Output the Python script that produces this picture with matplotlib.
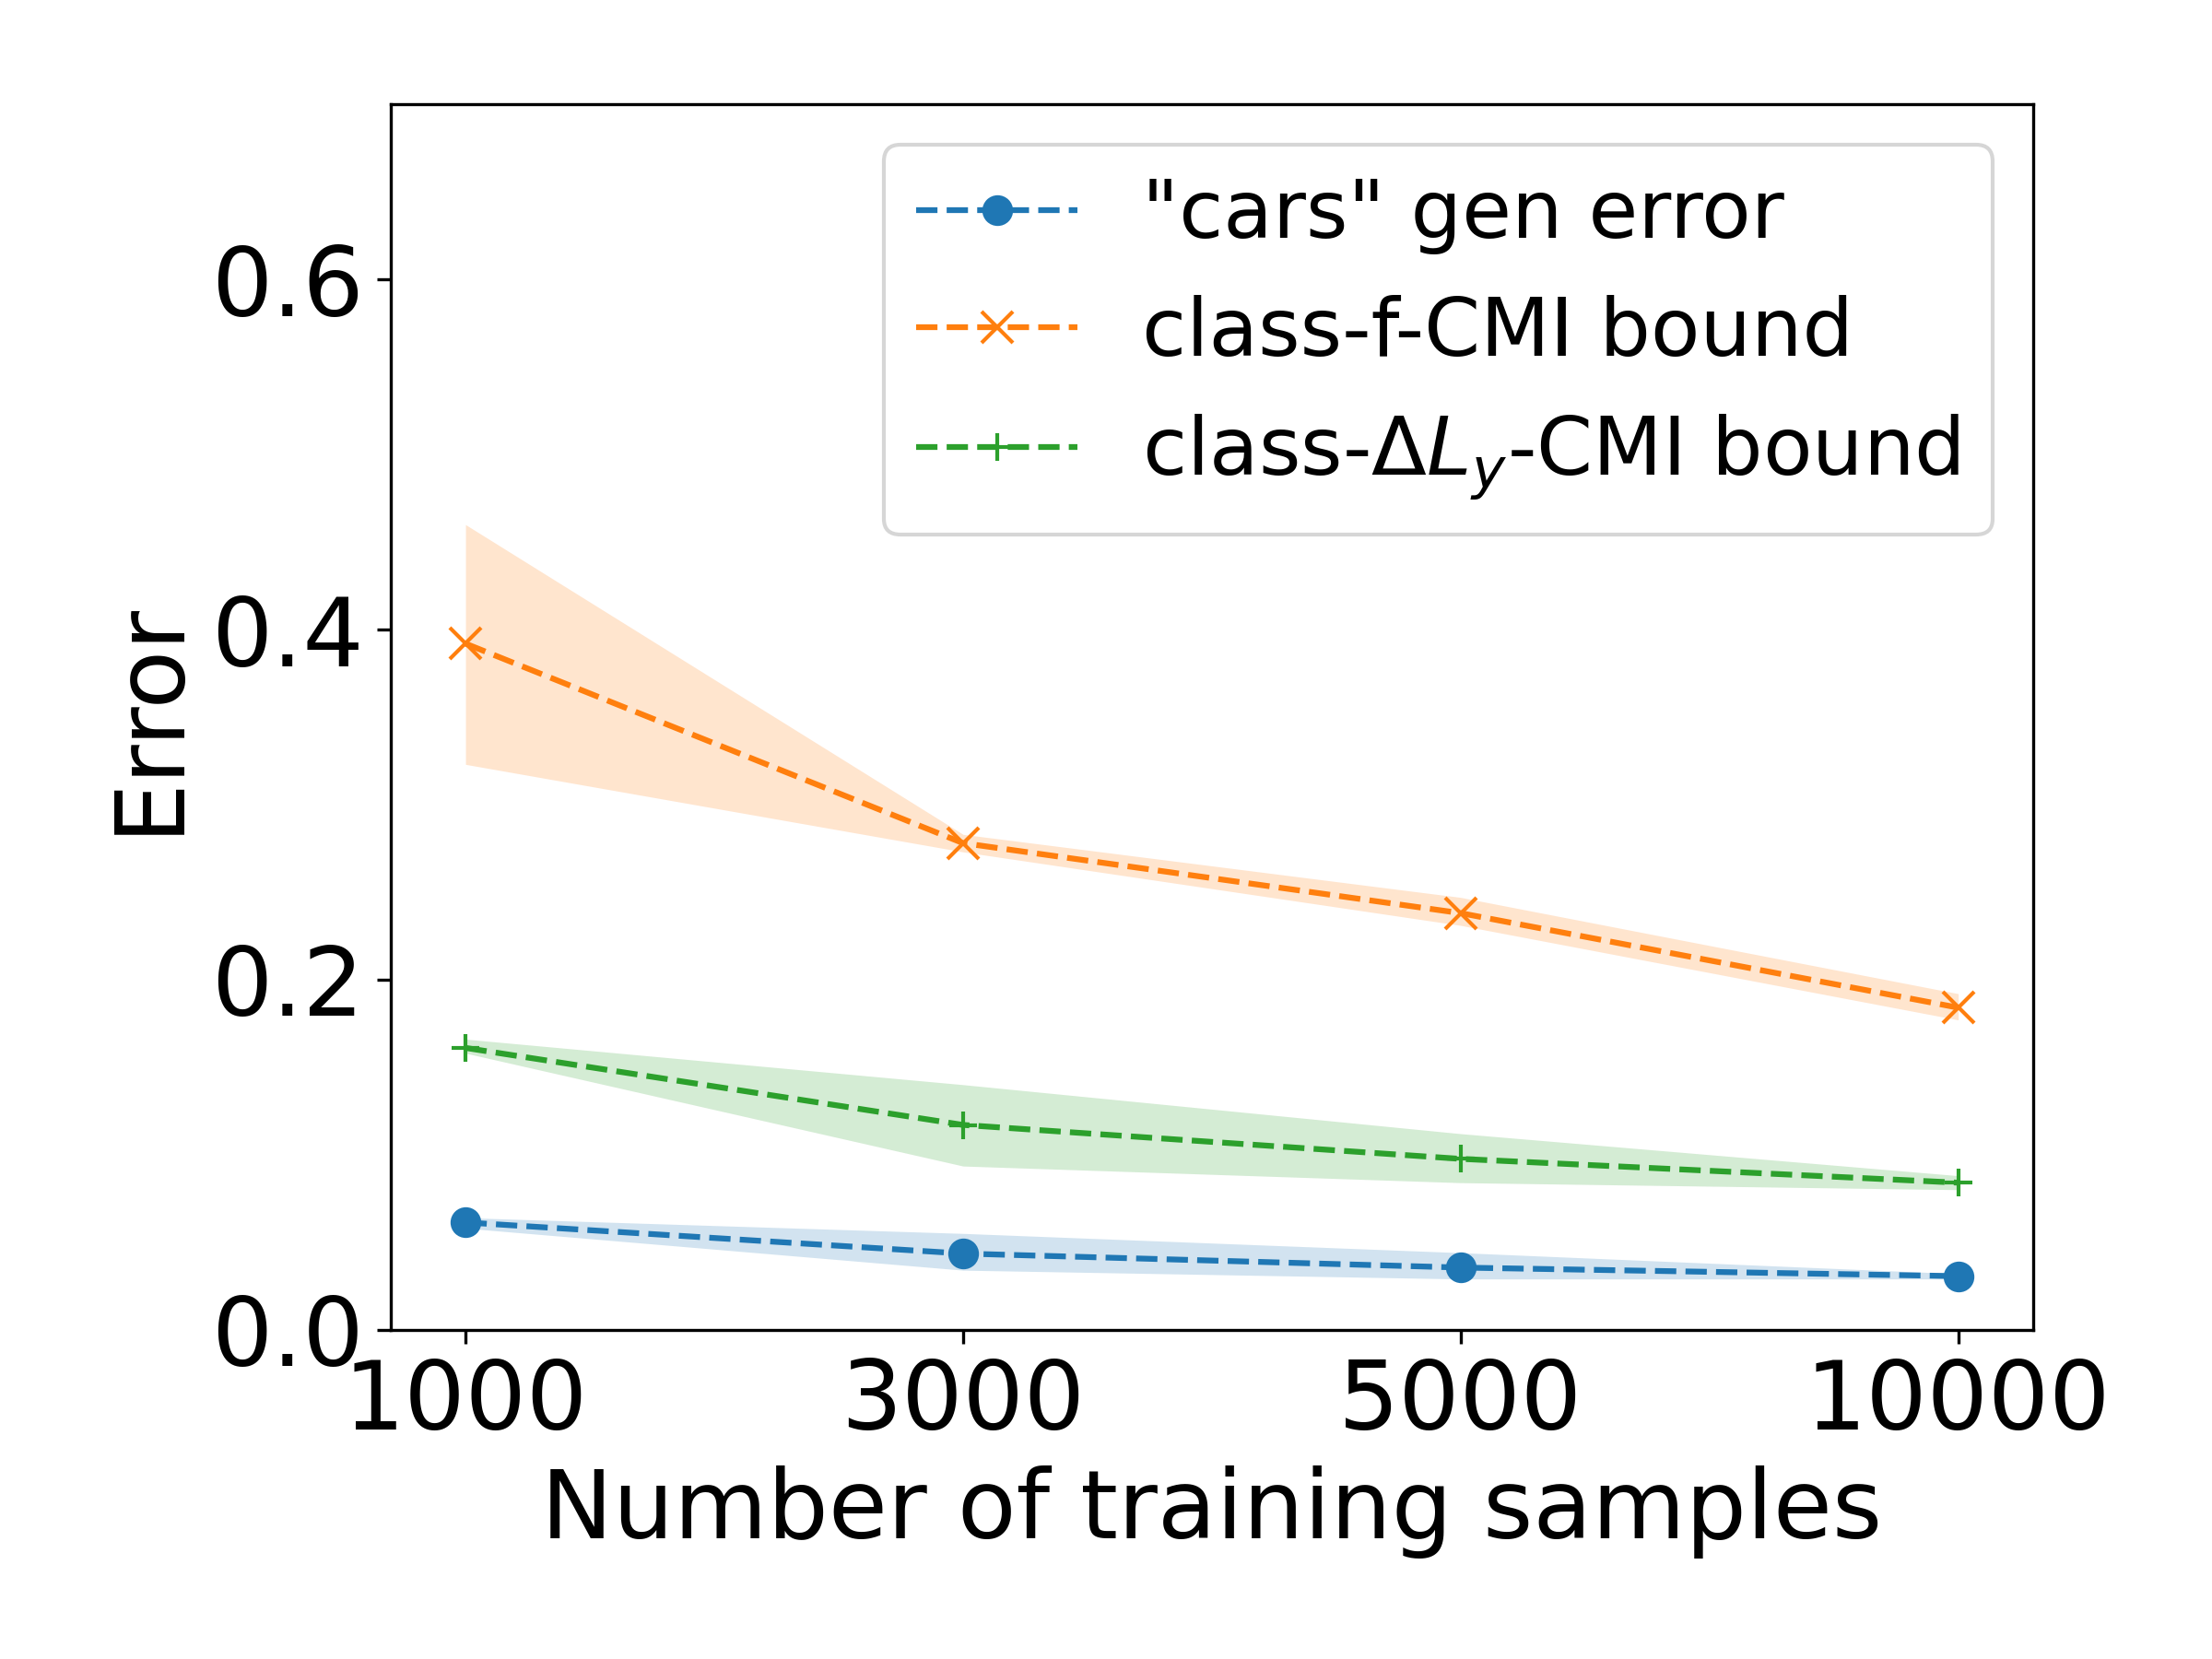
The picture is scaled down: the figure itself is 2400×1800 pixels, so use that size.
import numpy as np
import matplotlib
matplotlib.use("Agg")
import matplotlib.pyplot as plt

# training set sizes (categorical x positions)
samples = ["1000", "3000", "5000", "10000"]

gen_error = [0.0613, 0.0435, 0.0355, 0.0306]
gen_error_lo = [0.058, 0.034, 0.029, 0.029]
gen_error_hi = [0.064, 0.055, 0.044, 0.032]

f_cmi = [0.392, 0.278, 0.238, 0.184]
f_cmi_lo = [0.323, 0.273, 0.231, 0.177]
f_cmi_hi = [0.460, 0.283, 0.247, 0.192]

dl_cmi = [0.161, 0.117, 0.0976, 0.084]
dl_cmi_lo = [0.158, 0.0935, 0.084, 0.080]
dl_cmi_hi = [0.166, 0.140, 0.112, 0.088]

x = np.arange(len(samples))

fig, ax = plt.subplots(figsize=(8, 6), dpi=300)
fig.subplots_adjust(left=0.1767, right=0.919, bottom=0.1985, top=0.937)

ax.plot(x, gen_error, "o--", color="C0", ms=7, label='"cars" gen error')
ax.fill_between(x, gen_error_lo, gen_error_hi, color="C0", alpha=0.2, lw=0)
ax.plot(x, f_cmi, "x--", color="C1", ms=8, label="class-f-CMI bound")
ax.fill_between(x, f_cmi_lo, f_cmi_hi, color="C1", alpha=0.2, lw=0)
ax.plot(x, dl_cmi, "+--", color="C2", ms=7, label=r"class-$\Delta L_y$-CMI bound")
ax.fill_between(x, dl_cmi_lo, dl_cmi_hi, color="C2", alpha=0.2, lw=0)

ax.set_xticks(x)
ax.set_xticklabels(samples)
ax.set_xlim(-0.15, 3.15)
ax.set_ylim(0, 0.7)
ax.set_yticks([0.0, 0.2, 0.4, 0.6])
ax.tick_params(labelsize=25)
ax.set_xlabel("Number of training samples", fontsize=25)
ax.set_ylabel("Error", fontsize=25)
ax.legend(fontsize=21, loc="upper right")

plt.savefig("out.png")
